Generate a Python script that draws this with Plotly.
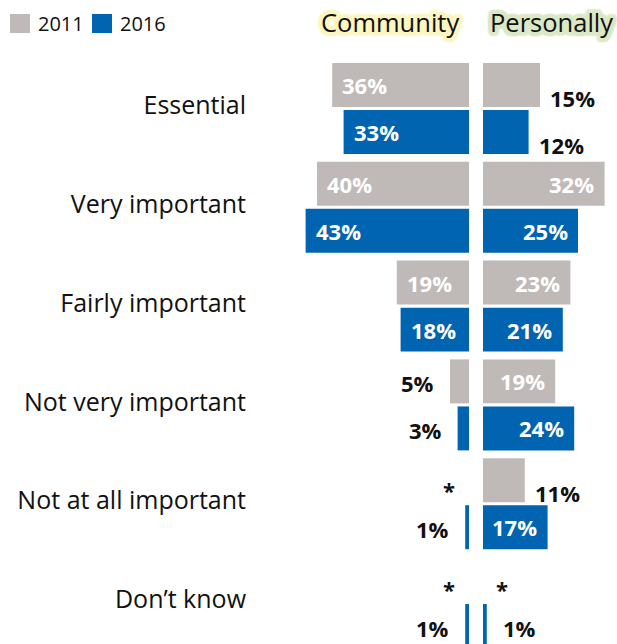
import plotly.graph_objects as go

# ---- data -------------------------------------------------------------
categories = ["Essential", "Very important", "Fairly important",
              "Not very important", "Not at all important", "Don’t know"]
years = ["2011", "2016"]
# None = less than 0.5% (shown as "*")
community_2011 = [36, 40, 19, 5, None, None]
community_2016 = [33, 43, 18, 3, 1, 1]
personal_2011 = [15, 32, 23, 19, 11, None]
personal_2016 = [12, 25, 21, 24, 17, 1]

GREY = "#bfbab8"
BLUE = "#0064b0"
FONT = "Open Sans"
W, H = 617, 644
PX_PER_PCT = 3.8

# pixel geometry of the two panels
comm_left, comm_zero = 250, 469
pers_zero = 483

fig = go.Figure()

series = [
    ("x", "2011", community_2011, GREY),
    ("x", "2016", community_2016, BLUE),
    ("x2", "2011", personal_2011, GREY),
    ("x2", "2016", personal_2016, BLUE),
]
for xa, yr, vals, col in series:
    fig.add_trace(go.Bar(
        x=vals, y=categories, orientation="h", name=yr,
        marker=dict(color=col, line=dict(width=0)),
        xaxis=xa, yaxis="y", showlegend=False, hoverinfo="skip",
    ))

# ---- value labels --------------------------------------------------------
annotations = []
BAR_OFFSET = 23.5  # px between category centre and each bar centre
for xa, yr, vals, col in series:
    ysh = BAR_OFFSET if yr == "2011" else -BAR_OFFSET
    community = xa == "x"
    for cat, v in zip(categories, vals):
        if v is None:
            annotations.append(dict(
                x=0, y=cat, xref=xa, yref="y", text="<b>*</b>",
                showarrow=False, xanchor="center",
                xshift=-20 if community else 19, yshift=ysh - 10,
                font=dict(family=FONT, size=22, color="#111111")))
            continue
        label = f"<b>{v}%</b>"
        if v >= 16:
            annotations.append(dict(
                x=v, y=cat, xref=xa, yref="y", text=label, showarrow=False,
                xanchor="left" if community else "right",
                xshift=8 if community else -8.5, yshift=ysh,
                font=dict(family=FONT, size=22, color="white")))
        elif community:
            annotations.append(dict(
                x=v, y=cat, xref=xa, yref="y", text=label, showarrow=False,
                xanchor="right", xshift=-14, yshift=ysh - 2,
                font=dict(family=FONT, size=22, color="#111111")))
        elif v <= 3:
            annotations.append(dict(
                x=v, y=cat, xref=xa, yref="y", text=label, showarrow=False,
                xanchor="left", xshift=14.5, yshift=ysh - 2,
                font=dict(family=FONT, size=22, color="#111111")))
        else:
            annotations.append(dict(
                x=v, y=cat, xref=xa, yref="y", text=label, showarrow=False,
                xanchor="left", xshift=8, yshift=ysh - 13,
                font=dict(family=FONT, size=22, color="#111111")))

# ---- panel headers with soft halo ---------------------------------------
def halo(c):
    ring = [(4, 0), (-4, 0), (0, 4), (0, -4), (3, 3), (-3, 3), (3, -3),
            (-3, -3), (2, 0), (-2, 0), (0, 2), (0, -2), (4, 2), (-4, 2),
            (4, -2), (-4, -2), (2, 4), (-2, 4), (2, -4), (-2, -4)]
    return ", ".join(f"{dx}px {dy}px 1.5px {c}" for dx, dy in ring)

annotations.append(dict(
    x=390 / W, y=1 - 22 / H, xref="paper", yref="paper", text="Community",
    showarrow=False, xanchor="center", yanchor="middle",
    font=dict(family=FONT, size=25.5, color="#111111", shadow=halo("#fbf6c2"))))
annotations.append(dict(
    x=551 / W, y=1 - 22 / H, xref="paper", yref="paper", text="Personally",
    showarrow=False, xanchor="center", yanchor="middle",
    font=dict(family=FONT, size=25.5, color="#111111", shadow=halo("#dbe8c6"))))

# ---- legend (drawn by hand for large square keys) ------------------------
shapes = []
for (x0, lab_x), yr, col in zip([(10, 36), (92, 118)], years, [GREY, BLUE]):
    shapes.append(dict(type="rect", xref="paper", yref="paper",
                       x0=x0 / W, x1=(x0 + 20) / W,
                       y0=1 - 33 / H, y1=1 - 14 / H,
                       fillcolor=col, line=dict(width=0)))
    annotations.append(dict(
        x=lab_x / W, y=1 - 24 / H, xref="paper", yref="paper", text=yr,
        showarrow=False, xanchor="left", yanchor="middle",
        font=dict(family=FONT, size=20, color="#111111")))

# category centre 0 sits 108.5 px from the top, categories 98.8 px apart
SPACING = 98.8
top_val = -108.5 / SPACING
bot_val = top_val + H / SPACING

fig.update_layout(
    width=W, height=H,
    margin=dict(l=0, r=0, t=0, b=0),
    paper_bgcolor="white", plot_bgcolor="white",
    barmode="group", bargap=0.048, bargroupgap=0.065,
    font=dict(family=FONT, color="#111111"),
    xaxis=dict(domain=[comm_left / W, comm_zero / W],
               range=[(comm_zero - comm_left) / PX_PER_PCT, 0],
               showgrid=False, zeroline=False, showticklabels=False,
               showline=False, fixedrange=True),
    xaxis2=dict(domain=[pers_zero / W, 1],
                range=[0, (W - pers_zero) / PX_PER_PCT],
                showgrid=False, zeroline=False, showticklabels=False,
                showline=False, fixedrange=True, anchor="y"),
    yaxis=dict(type="category", categoryorder="array", categoryarray=categories,
               range=[bot_val, top_val], anchor="x", domain=[0, 1],
               showgrid=False, zeroline=False, showline=False, ticks="",
               ticklabelstandoff=3, ticklabelshift=3,
               tickfont=dict(family=FONT, size=25, color="#111111"),
               fixedrange=True),
    annotations=annotations,
    shapes=shapes,
    showlegend=False,
)

fig.write_html("out.html")
